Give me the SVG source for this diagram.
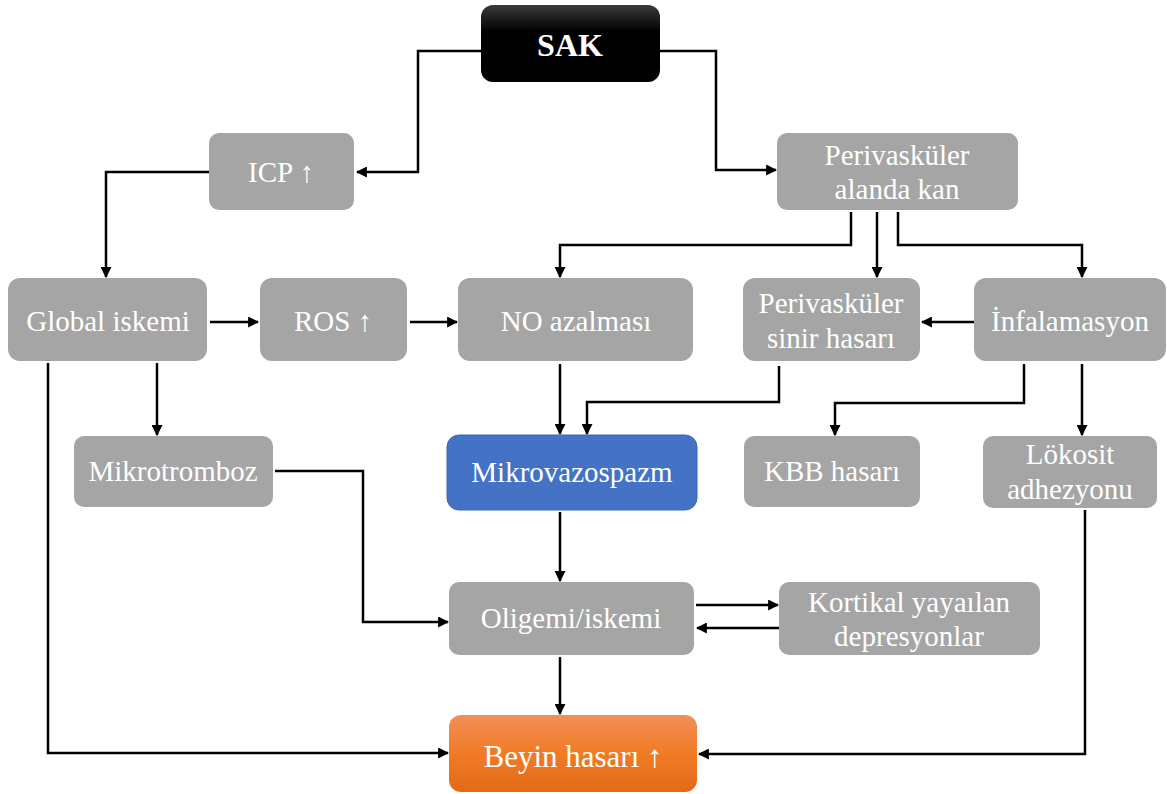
<svg xmlns="http://www.w3.org/2000/svg" width="1167" height="794" viewBox="0 0 1167 794">
<defs>
<linearGradient id="gBlack" x1="0" y1="0" x2="0" y2="1"><stop offset="0" stop-color="#3a3a3a"/><stop offset="0.35" stop-color="#000"/><stop offset="1" stop-color="#000"/></linearGradient>
<linearGradient id="gOrange" x1="0" y1="0" x2="0" y2="1"><stop offset="0" stop-color="#F19057"/><stop offset="0.5" stop-color="#F07B25"/><stop offset="1" stop-color="#E46A17"/></linearGradient>
<marker id="ah" viewBox="0 0 10 10" refX="9" refY="5" markerWidth="4.4" markerHeight="4.4" orient="auto" markerUnits="strokeWidth"><path d="M0,0 L10,5 L0,10 z" fill="#000"/></marker>
<style>
.box{fill:#A5A5A5;}
.t{font-size:29px;fill:#fff;text-anchor:middle;}
.c{fill:none;stroke:#000;stroke-width:2.5;marker-end:url(#ah);}
</style>
</defs>
<rect width="1167" height="794" fill="#fff"/>
<g id="connectors">
<path class="c" d="M481,51 H418 V172 H357"/>
<path class="c" d="M660,51 H716 V170 H776"/>
<path class="c" d="M209,172 H106 V277"/>
<path class="c" d="M210,322 H258"/>
<path class="c" d="M410,322 H457"/>
<path class="c" d="M851,212 V245 H560 V277"/>
<path class="c" d="M877,212 V277"/>
<path class="c" d="M898,212 V245 H1082 V277"/>
<path class="c" d="M974,322 H922"/>
<path class="c" d="M157,363 V435"/>
<path class="c" d="M48,363 V753 H448"/>
<path class="c" d="M275,471 H363 V622 H448"/>
<path class="c" d="M560,364 V434"/>
<path class="c" d="M779,366 V402 H587 V434"/>
<path class="c" d="M1024,364 V403 H835 V435"/>
<path class="c" d="M1082,364 V435"/>
<path class="c" d="M560,512 V581"/>
<path class="c" d="M696,605 H778"/>
<path class="c" d="M779,628 H697"/>
<path class="c" d="M560,657 V714"/>
<path class="c" d="M1085,510 V754 H699"/>
</g>
<g font-family="'Liberation Serif', Tinos, 'Times New Roman', 'DejaVu Serif', serif">
<g id="sak"><rect x="481" y="5" width="179" height="77" rx="12" fill="url(#gBlack)"/><text x="570" y="56" font-size="32" font-weight="bold" fill="#fff" text-anchor="middle">SAK</text></g>
<g id="icp"><rect class="box" x="209" y="133" width="145" height="77" rx="10"/><text class="t" x="281" y="182">ICP ↑</text></g>
<g id="perivaskuler-kan"><rect class="box" x="777" y="133" width="241" height="77" rx="10"/><text class="t" x="897" y="165">Perivasküler</text><text class="t" x="897" y="199">alanda kan</text></g>
<g id="global-iskemi"><rect class="box" x="8" y="278" width="199" height="83" rx="12"/><text class="t" x="108" y="331">Global iskemi</text></g>
<g id="ros"><rect class="box" x="260" y="278" width="147" height="83" rx="12"/><text class="t" x="333" y="331">ROS ↑</text></g>
<g id="no-azalmasi"><rect class="box" x="458" y="278" width="235" height="83" rx="12"/><text class="t" x="576" y="331">NO azalması</text></g>
<g id="perivaskuler-sinir"><rect class="box" x="743" y="278" width="177" height="83" rx="12"/><text class="t" x="831" y="313">Perivasküler</text><text class="t" x="831" y="348">sinir hasarı</text></g>
<g id="infalamasyon"><rect class="box" x="974" y="278" width="192" height="83" rx="12"/><text class="t" x="1070" y="331">İnfalamasyon</text></g>
<g id="mikrotromboz"><rect class="box" x="74" y="436" width="199" height="71" rx="10"/><text class="t" x="173" y="481">Mikrotromboz</text></g>
<g id="mikrovazospazm"><rect x="447" y="435" width="250" height="75" rx="12" fill="#4472C4" stroke="#3A65B0" stroke-width="1"/><text class="t" x="572" y="482">Mikrovazospazm</text></g>
<g id="kbb"><rect class="box" x="744" y="436" width="176" height="71" rx="10"/><text class="t" x="832" y="481">KBB hasarı</text></g>
<g id="lokosit"><rect class="box" x="983" y="436" width="174" height="72" rx="10"/><text class="t" x="1070" y="464">Lökosit</text><text class="t" x="1070" y="499">adhezyonu</text></g>
<g id="oligemi"><rect class="box" x="449" y="582" width="245" height="73" rx="10"/><text class="t" x="571" y="628">Oligemi/iskemi</text></g>
<g id="kortikal"><rect class="box" x="779" y="582" width="261" height="73" rx="10"/><text class="t" x="909" y="612">Kortikal yayaılan</text><text class="t" x="909" y="646">depresyonlar</text></g>
<g id="beyin"><rect x="449" y="715" width="248" height="77" rx="12" fill="url(#gOrange)"/><text class="t" x="573" y="767" style="font-size:31px">Beyin hasarı ↑</text></g>
</g>
</svg>
